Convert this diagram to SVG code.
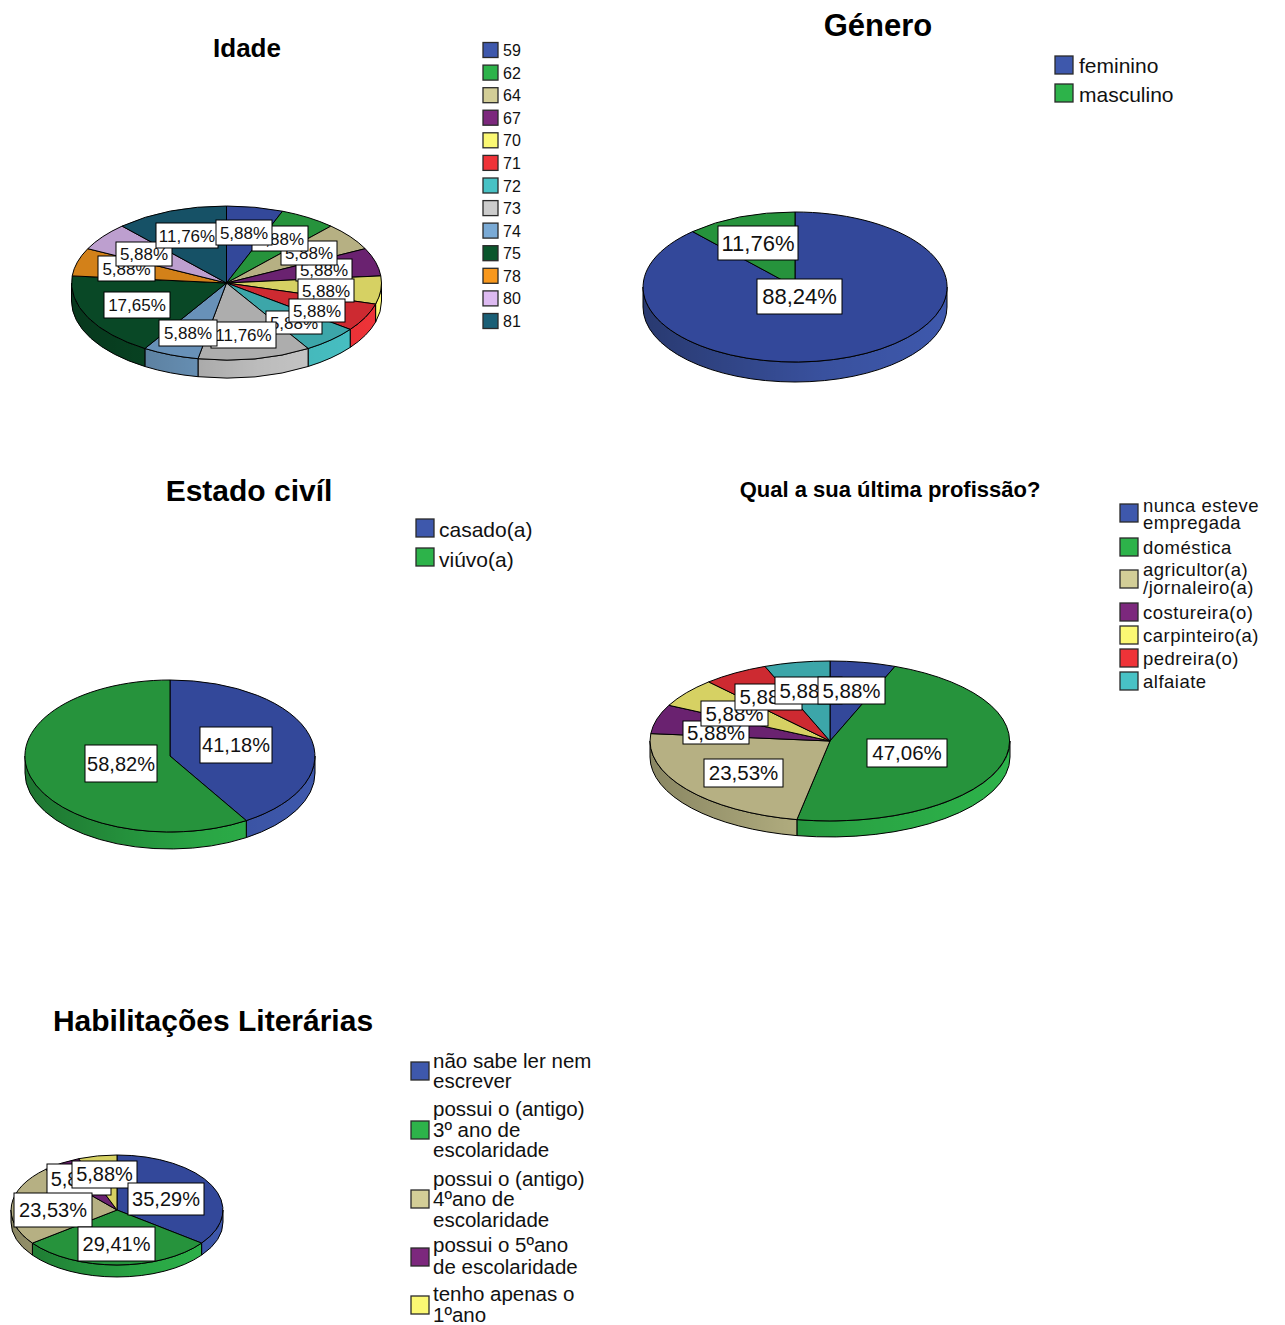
<svg xmlns="http://www.w3.org/2000/svg" width="1285" height="1325" viewBox="0 0 1285 1325">
<style>
.ti{font-family:"Liberation Sans",Arial,sans-serif;font-weight:bold;text-anchor:middle;fill:#000}
.lg text{font-family:"Liberation Sans",Arial,sans-serif;fill:#111}
.lg rect{stroke:#2a2a2a;stroke-width:1.3}
.lb rect{fill:#fff;stroke:#000;stroke-width:1}
.lb text{font-family:"Liberation Sans",Arial,sans-serif;text-anchor:middle;fill:#111}
.pie path{stroke:#000;stroke-width:1;stroke-linejoin:round}
.pie path.sh{fill:url(#shade);stroke:none}
.blue{fill:#3E58AC}.green{fill:#2DB34A}.tan{fill:#D3CE97}.purple{fill:#7C287D}.yellow{fill:#FBF873}.red{fill:#EF3338}.cyan{fill:#48C2C5}.gray{fill:#CCCCCC}.ltblue{fill:#7AAAD5}.dkgreen{fill:#0A562C}.orange{fill:#F8981D}.lav{fill:#DDBAF1}.teal{fill:#1A5F76}
.tblue{fill:#33489A}.tgreen{fill:#26933C}.ttan{fill:#B6B083}.tpurple{fill:#6A2270}.tyellow{fill:#D6D163}.tred{fill:#CD2A31}.tcyan{fill:#3CA6A9}.tgray{fill:#ADADAD}.tltblue{fill:#6891B8}.tdkgreen{fill:#094826}.torange{fill:#D38119}.tlav{fill:#BD9FCF}.tteal{fill:#165166}
</style>
<defs>
<linearGradient id="shade" x1="0" y1="0" x2="1" y2="0">
<stop offset="0" stop-color="#000" stop-opacity="0.35"/>
<stop offset="0.6" stop-color="#000" stop-opacity="0.08"/>
<stop offset="1" stop-color="#000" stop-opacity="0"/>
</linearGradient>
</defs>
<rect width="1285" height="1325" fill="#fff"/>

<!-- ===== Idade ===== -->
<g id="chart-idade">
<text class="ti" x="247" y="57" font-size="26">Idade</text>
<g class="pie">
<path class="yellow" d="M381.5,283 A155,77 0 0 1 375.6,304.1 L375.6,322.1 A155,77 0 0 0 381.5,301 Z"/>
<path class="red" d="M375.6,304.1 A155,77 0 0 1 350.2,329.4 L350.2,347.4 A155,77 0 0 0 375.6,322.1 Z"/>
<path class="cyan" d="M350.2,329.4 A155,77 0 0 1 308.1,348.5 L308.1,366.5 A155,77 0 0 0 350.2,347.4 Z"/>
<path class="gray" d="M308.1,348.5 A155,77 0 0 1 198,358.7 L198,376.7 A155,77 0 0 0 308.1,366.5 Z"/>
<path class="ltblue" d="M198,358.7 A155,77 0 0 1 144.9,348.5 L144.9,366.5 A155,77 0 0 0 198,376.7 Z"/>
<path class="dkgreen" d="M144.9,348.5 A155,77 0 0 1 71.5,283 L71.5,301 A155,77 0 0 0 144.9,366.5 Z"/>
<path class="sh" d="M381.5,283 A155,77 0 0 1 71.5,283 L71.5,301 A155,77 0 0 0 381.5,301 Z"/>
<path class="tblue" d="M226.5,283 L226.5,206 A155,77 0 0 1 282.5,211.2 Z"/>
<path class="tgreen" d="M226.5,283 L282.5,211.2 A155,77 0 0 1 330.9,226.1 Z"/>
<path class="ttan" d="M226.5,283 L330.9,226.1 A155,77 0 0 1 365.2,248.7 Z"/>
<path class="tpurple" d="M226.5,283 L365.2,248.7 A155,77 0 0 1 380.8,275.9 Z"/>
<path class="tyellow" d="M226.5,283 L380.8,275.9 A155,77 0 0 1 375.6,304.1 Z"/>
<path class="tred" d="M226.5,283 L375.6,304.1 A155,77 0 0 1 350.2,329.4 Z"/>
<path class="tcyan" d="M226.5,283 L350.2,329.4 A155,77 0 0 1 308.1,348.5 Z"/>
<path class="tgray" d="M226.5,283 L308.1,348.5 A155,77 0 0 1 198,358.7 Z"/>
<path class="tltblue" d="M226.5,283 L198,358.7 A155,77 0 0 1 144.9,348.5 Z"/>
<path class="tdkgreen" d="M226.5,283 L144.9,348.5 A155,77 0 0 1 72.2,275.9 Z"/>
<path class="torange" d="M226.5,283 L72.2,275.9 A155,77 0 0 1 87.8,248.7 Z"/>
<path class="tlav" d="M226.5,283 L87.8,248.7 A155,77 0 0 1 122.1,226.1 Z"/>
<path class="tteal" d="M226.5,283 L122.1,226.1 A155,77 0 0 1 226.5,206 Z"/>
</g>
<g class="lb" font-size="17">
<rect x="98" y="256" width="57" height="25"/><text x="126.5" y="274.5">5,88%</text>
<rect x="116" y="242" width="56" height="24"/><text x="144" y="260">5,88%</text>
<rect x="156" y="223" width="62" height="25"/><text x="187" y="241.5">11,76%</text>
<rect x="266" y="311" width="56" height="23"/><text x="294" y="328.5">5,88%</text>
<rect x="211" y="322" width="65" height="26"/><text x="243.5" y="341">11,76%</text>
<rect x="159" y="320" width="58" height="26"/><text x="188" y="339">5,88%</text>
<rect x="104" y="292" width="66" height="26"/><text x="137" y="311">17,65%</text>
<rect x="296" y="259" width="56" height="22"/><text x="324" y="276">5,88%</text>
<rect x="281" y="241" width="56" height="24"/><text x="309" y="259">5,88%</text>
<rect x="252" y="226" width="56" height="25"/><text x="280" y="244.5">5,88%</text>
<rect x="216" y="220" width="56" height="25"/><text x="244" y="238.5">5,88%</text>
<rect x="298" y="279" width="56" height="23"/><text x="326" y="296.5">5,88%</text>
<rect x="289" y="299" width="56" height="23"/><text x="317" y="316.5">5,88%</text>
</g>
<g class="lg" font-size="16">
<rect class="blue" x="483" y="42.5" width="15" height="15"/><text x="503" y="56">59</text>
<rect class="green" x="483" y="65.1" width="15" height="15"/><text x="503" y="78.6">62</text>
<rect class="tan" x="483" y="87.7" width="15" height="15"/><text x="503" y="101.2">64</text>
<rect class="purple" x="483" y="110.2" width="15" height="15"/><text x="503" y="123.7">67</text>
<rect class="yellow" x="483" y="132.8" width="15" height="15"/><text x="503" y="146.3">70</text>
<rect class="red" x="483" y="155.4" width="15" height="15"/><text x="503" y="168.9">71</text>
<rect class="cyan" x="483" y="178" width="15" height="15"/><text x="503" y="191.5">72</text>
<rect class="gray" x="483" y="200.6" width="15" height="15"/><text x="503" y="214.1">73</text>
<rect class="ltblue" x="483" y="223.1" width="15" height="15"/><text x="503" y="236.6">74</text>
<rect class="dkgreen" x="483" y="245.7" width="15" height="15"/><text x="503" y="259.2">75</text>
<rect class="orange" x="483" y="268.3" width="15" height="15"/><text x="503" y="281.8">78</text>
<rect class="lav" x="483" y="290.9" width="15" height="15"/><text x="503" y="304.4">80</text>
<rect class="teal" x="483" y="313.5" width="15" height="15"/><text x="503" y="327">81</text>
</g>
</g>

<!-- ===== Género ===== -->
<g id="chart-genero">
<text class="ti" x="878" y="36" font-size="31">Género</text>
<g class="pie">
<path class="blue" d="M947,287 A152,75 0 0 1 643,287 L643,307 A152,75 0 0 0 947,307 Z"/>
<path class="sh" d="M947,287 A152,75 0 0 1 643,287 L643,307 A152,75 0 0 0 947,307 Z"/>
<path class="tblue" d="M795,287 L795,212 A152,75 0 1 1 692.6,231.6 Z"/>
<path class="tgreen" d="M795,287 L692.6,231.6 A152,75 0 0 1 795,212 Z"/>
</g>
<g class="lb" font-size="22">
<rect x="718" y="226" width="80" height="34"/><text x="758" y="251">11,76%</text>
<rect x="757" y="279" width="85" height="35"/><text x="799.5" y="304">88,24%</text>
</g>
<g class="lg" font-size="21">
<rect class="blue" x="1055" y="56" width="18" height="18"/><text x="1079" y="73">feminino</text>
<rect class="green" x="1055" y="84" width="18" height="18"/><text x="1079" y="102">masculino</text>
</g>
</g>

<!-- ===== Estado civíl ===== -->
<g id="chart-estado-civil">
<text class="ti" x="249" y="501" font-size="30">Estado civíl</text>
<g class="pie">
<path class="blue" d="M315,756 A145,76 0 0 1 246.3,820.6 L246.3,837.6 A145,76 0 0 0 315,773 Z"/>
<path class="green" d="M246.3,820.6 A145,76 0 0 1 25,756 L25,773 A145,76 0 0 0 246.3,837.6 Z"/>
<path class="sh" d="M315,756 A145,76 0 0 1 25,756 L25,773 A145,76 0 0 0 315,773 Z"/>
<path class="tblue" d="M170,756 L170,680 A145,76 0 0 1 246.3,820.6 Z"/>
<path class="tgreen" d="M170,756 L246.3,820.6 A145,76 0 1 1 170,680 Z"/>
</g>
<g class="lb" font-size="20">
<rect x="200" y="727" width="72" height="36"/><text x="236" y="752">41,18%</text>
<rect x="85" y="745" width="72" height="37"/><text x="121" y="770.5">58,82%</text>
</g>
<g class="lg" font-size="21">
<rect class="blue" x="416" y="519" width="18" height="18"/><text x="439" y="537">casado(a)</text>
<rect class="green" x="416" y="548" width="18" height="18"/><text x="439" y="567">viúvo(a)</text>
</g>
</g>

<!-- ===== Profissão ===== -->
<g id="chart-profissao">
<text class="ti" x="890" y="497" font-size="22">Qual a sua última profissão?</text>
<g class="pie">
<path class="green" d="M1010,741 A180,80 0 0 1 796.9,819.6 L796.9,835.6 A180,80 0 0 0 1010,757 Z"/>
<path class="tan" d="M796.9,819.6 A180,80 0 0 1 650,741 L650,757 A180,80 0 0 0 796.9,835.6 Z"/>
<path class="sh" d="M1010,741 A180,80 0 0 1 650,741 L650,757 A180,80 0 0 0 1010,757 Z"/>
<path class="tblue" d="M830,741 L830,661 A180,80 0 0 1 895,666.4 Z"/>
<path class="tgreen" d="M830,741 L895,666.4 A180,80 0 0 1 796.9,819.6 Z"/>
<path class="ttan" d="M830,741 L796.9,819.6 A180,80 0 0 1 650.8,733.6 Z"/>
<path class="tpurple" d="M830,741 L650.8,733.6 A180,80 0 0 1 668.9,705.3 Z"/>
<path class="tyellow" d="M830,741 L668.9,705.3 A180,80 0 0 1 708.7,681.9 Z"/>
<path class="tred" d="M830,741 L708.7,681.9 A180,80 0 0 1 765,666.4 Z"/>
<path class="tcyan" d="M830,741 L765,666.4 A180,80 0 0 1 830,661 Z"/>
</g>
<g class="lb" font-size="20.5">
<rect x="683" y="721" width="66" height="23"/><text x="716" y="739.5">5,88%</text>
<rect x="701" y="701" width="67" height="25"/><text x="734.5" y="720.5">5,88%</text>
<rect x="735" y="684" width="67" height="26"/><text x="768.5" y="704">5,88%</text>
<rect x="775" y="677" width="67" height="27"/><text x="808.5" y="697.5">5,88%</text>
<rect x="818" y="677" width="67" height="27"/><text x="851.5" y="697.5">5,88%</text>
<rect x="704" y="759" width="79" height="28"/><text x="743.5" y="780">23,53%</text>
<rect x="867" y="739" width="80" height="28"/><text x="907" y="760">47,06%</text>
</g>
<g class="lg" font-size="18.5" letter-spacing="0.5">
<rect class="blue" x="1120" y="504" width="18" height="18"/><text x="1143" y="512">nunca esteve</text><text x="1143" y="529">empregada</text>
<rect class="green" x="1120" y="538" width="18" height="18"/><text x="1143" y="554">doméstica</text>
<rect class="tan" x="1120" y="570" width="18" height="18"/><text x="1143" y="576">agricultor(a)</text><text x="1143" y="594">/jornaleiro(a)</text>
<rect class="purple" x="1120" y="603" width="18" height="18"/><text x="1143" y="619">costureira(o)</text>
<rect class="yellow" x="1120" y="626" width="18" height="18"/><text x="1143" y="642">carpinteiro(a)</text>
<rect class="red" x="1120" y="649" width="18" height="18"/><text x="1143" y="665">pedreira(o)</text>
<rect class="cyan" x="1120" y="672" width="18" height="18"/><text x="1143" y="688">alfaiate</text>
</g>
</g>

<!-- ===== Habilitações ===== -->
<g id="chart-habilitacoes">
<text class="ti" x="213" y="1031" font-size="30">Habilitações Literárias</text>
<g class="pie">
<path class="blue" d="M223,1210 A106,55 0 0 1 201.6,1243.1 L201.6,1255.1 A106,55 0 0 0 223,1222 Z"/>
<path class="green" d="M201.6,1243.1 A106,55 0 0 1 32.4,1243.1 L32.4,1255.1 A106,55 0 0 0 201.6,1255.1 Z"/>
<path class="tan" d="M32.4,1243.1 A106,55 0 0 1 11,1210 L11,1222 A106,55 0 0 0 32.4,1255.1 Z"/>
<path class="sh" d="M223,1210 A106,55 0 0 1 11,1210 L11,1222 A106,55 0 0 0 223,1222 Z"/>
<path class="tblue" d="M117,1210 L117,1155 A106,55 0 0 1 201.6,1243.1 Z"/>
<path class="tgreen" d="M117,1210 L201.6,1243.1 A106,55 0 0 1 32.4,1243.1 Z"/>
<path class="ttan" d="M117,1210 L32.4,1243.1 A106,55 0 0 1 45.6,1169.4 Z"/>
<path class="tpurple" d="M117,1210 L45.6,1169.4 A106,55 0 0 1 78.7,1158.7 Z"/>
<path class="tyellow" d="M117,1210 L78.7,1158.7 A106,55 0 0 1 117,1155 Z"/>
</g>
<g class="lb" font-size="20">
<rect x="47" y="1164" width="64" height="31"/><text x="79" y="1186">5,88%</text>
<rect x="72" y="1161" width="65" height="27"/><text x="104.5" y="1181">5,88%</text>
<rect x="128" y="1183" width="76" height="32"/><text x="166" y="1206">35,29%</text>
<rect x="14" y="1193" width="78" height="34"/><text x="53" y="1217">23,53%</text>
<rect x="78" y="1227" width="77" height="34"/><text x="116.5" y="1251">29,41%</text>
</g>
<g class="lg" font-size="20.5">
<rect class="blue" x="411" y="1062" width="18" height="18"/><text x="433" y="1068">não sabe ler nem</text><text x="433" y="1088">escrever</text>
<rect class="green" x="411" y="1121" width="18" height="18"/><text x="433" y="1116">possui o (antigo)</text><text x="433" y="1137">3º ano de</text><text x="433" y="1157">escolaridade</text>
<rect class="tan" x="411" y="1190" width="18" height="18"/><text x="433" y="1186">possui o (antigo)</text><text x="433" y="1206">4ºano de</text><text x="433" y="1227">escolaridade</text>
<rect class="purple" x="411" y="1248" width="18" height="18"/><text x="433" y="1252">possui o 5ºano</text><text x="433" y="1274">de escolaridade</text>
<rect class="yellow" x="411" y="1296" width="18" height="18"/><text x="433" y="1301">tenho apenas o</text><text x="433" y="1322">1ºano</text>
</g>
</g>
</svg>
